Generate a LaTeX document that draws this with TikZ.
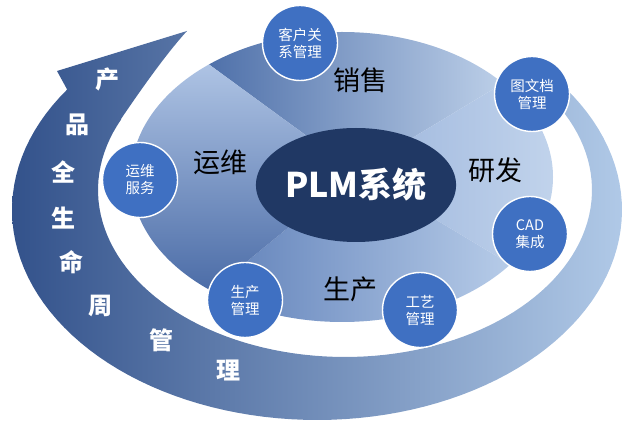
\documentclass[tikz,border=0pt]{standalone}
\usepackage{fontspec}
\setmainfont{Noto Sans CJK SC}
\usetikzlibrary{shapes.geometric}
\definecolor{bandL}{HTML}{33528B}
\definecolor{bandM}{HTML}{7592C4}
\definecolor{bandR}{HTML}{B0C9E7}
\definecolor{topL}{HTML}{4C6EA8}
\definecolor{topR}{HTML}{C3D5EC}
\definecolor{rgtL}{HTML}{9CB5DC}
\definecolor{rgtR}{HTML}{C2D4EC}
\definecolor{botL}{HTML}{5E7FB8}
\definecolor{botR}{HTML}{B8CDE9}
\definecolor{lftT}{HTML}{B0C5E5}
\definecolor{lftB}{HTML}{4A6BA6}
\definecolor{plmnavy}{HTML}{203864}
\definecolor{bubble}{HTML}{3F70C2}
\tikzset{
  bubblenode/.style={circle, minimum size=75pt, inner sep=0pt, fill=bubble, draw=white,
    line width=1.4pt, text=white, align=center, font=\fontsize{14.5}{17}\selectfont},
  sectorlabel/.style={text=black, inner sep=0pt, font=\fontsize{27}{30}\selectfont},
  bandchar/.style={text=white, inner sep=0pt, font=\fontsize{24}{26}\selectfont\bfseries}
}
\begin{document}
\begin{tikzpicture}[x=1pt,y=-1pt]
\useasboundingbox (0,0) rectangle (637,435);
% outer lifecycle band (spiral arrow)
\shade[left color=bandL, middle color=bandM, right color=bandR]
  plot[domain=-38:215,samples=100] ({317+305*cos(\x)},{210+210*sin(\x)})
  -- (57,71) -- (187,31) .. controls (165,55) and (138,94) .. (121,119)
  -- plot[domain=205:-32,samples=100] ({345+247*cos(\x)},{190+167*sin(\x)}) -- cycle;
% disk with four sectors
\begin{scope}
  \clip (342,177) ellipse [x radius=211, y radius=145];
  \begin{scope}
    \clip (356,172) -- (58,-46) -- (654,-8) -- cycle;
    \shade[left color=topL, right color=topR] (200,25) rectangle (520,180);
  \end{scope}
  \begin{scope}
    \clip (356,172) -- (654,-8) -- (664,356) -- cycle;
    \shade[left color=rgtL, right color=rgtR] (350,75) rectangle (560,270);
  \end{scope}
  \begin{scope}
    \clip (356,172) -- (664,356) -- (66,410) -- cycle;
    \shade[left color=botL, right color=botR] (205,165) rectangle (515,325);
  \end{scope}
  \begin{scope}
    \clip (356,172) -- (66,410) -- (58,-46) -- cycle;
    \shade[top color=lftT, bottom color=lftB] (125,60) rectangle (360,295);
  \end{scope}
\end{scope}
% centre
\node[ellipse, minimum width=182pt, minimum height=114pt, inner sep=0pt, fill=plmnavy,
  text=white, font=\fontsize{34}{36}\selectfont\bfseries] (plm) at (356,185) {PLM系统};
% sector labels
\node[sectorlabel] (xs) at (360,80) {销售};
\node[sectorlabel] (yw) at (220,162) {运维};
\node[sectorlabel] (yf) at (495,170) {研发};
\node[sectorlabel] (sc) at (350,289) {生产};
% bubbles
\node[bubblenode] (crm) at (300,43) {客户关\\系管理};
\node[bubblenode] (doc) at (532,94) {图文档\\管理};
\node[bubblenode] (cad) at (530,234) {CAD\\集成};
\node[bubblenode] (gy) at (420,310) {工艺\\管理};
\node[bubblenode] (scgl) at (245,300) {生产\\管理};
\node[bubblenode] (ywfw) at (140,180) {运维\\服务};
% band text
\node[bandchar] (b1) at (107,79) {产};
\node[bandchar] (b2) at (77,125) {品};
\node[bandchar] (b3) at (63,172) {全};
\node[bandchar] (b4) at (63,218) {生};
\node[bandchar] (b5) at (71,262) {命};
\node[bandchar] (b6) at (100,306) {周};
\node[bandchar] (b7) at (161,340) {管};
\node[bandchar] (b8) at (228,370) {理};
\end{tikzpicture}
\end{document}
